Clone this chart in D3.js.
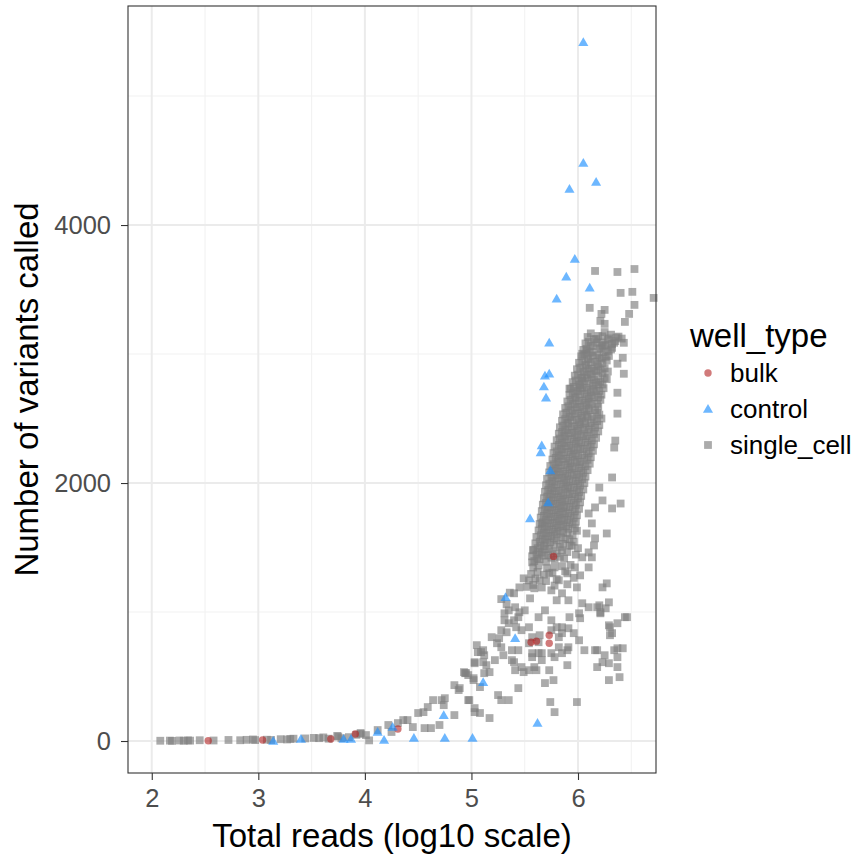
<!DOCTYPE html>
<html><head><meta charset="utf-8">
<script src="https://cdn.jsdelivr.net/npm/d3@7"></script>
<style>
body{margin:0;background:#fff}
svg{display:block}
text{font-family:"Liberation Sans",Arial,Helvetica,sans-serif}
</style>
</head><body>
<svg id="chart" width="856" height="859"></svg>
<script>
// ---------- tick labels / categories ----------
const xTicks = [2, 3, 4, 5, 6];
const xMinor = [2.5, 3.5, 4.5, 5.5, 6.5];
const yTicks = [0, 2000, 4000];
const yMinor = [1000, 3000, 5000];
const categories = ["bulk", "control", "single_cell"];

// ---------- data: [log10 total reads, variants called] ----------
const bulk = [
 [2.53,2],[3.04,8],[3.68,15],[3.91,54],[4.31,93],
 [5.77,1431],[5.56,766],[5.61,774],[5.73,820],[5.73,758]
];

const control = [
 [6.05,5416],[6.05,4480],[5.92,4279],[6.17,4333],[5.97,3737],[5.89,3598],
 [5.80,3428],[6.11,3513],[5.73,3087],[5.69,2832],[5.73,2847],[5.68,2747],
 [5.70,2661],[5.66,2290],[5.65,2236],[5.74,2097],[5.72,1849],[5.55,1725],
 [5.32,1114],[5.41,797],[5.11,456],[5.62,139],[4.74,200],[4.75,23],[5.01,23],
 [3.14,0],[3.40,15],[3.80,15],[3.87,15],[4.12,70],[4.18,8],[4.26,108],[4.46,23]
];

const singleCell = [
 // low tail
 [2.08,2],[2.17,3],[2.19,1],[2.26,4],[2.30,2],[2.34,5],[2.36,3],[2.45,6],[2.58,4],[2.72,8],
 [2.83,6],[2.89,9],[2.95,12],[2.97,7],[3.08,10],[3.12,8],[3.21,14],[3.27,12],[3.30,16],[3.33,18],
 [3.44,20],[3.52,24],[3.57,22],[3.61,28],[3.66,18],[3.75,35],[3.78,22],[3.96,55],[4.01,46],[4.04,5],
 [3.85,30],[3.92,48],
 // rising segment
 [3.74,39],[3.96,62],[4.12,85],[4.22,124],[4.25,70],[4.31,139],[4.36,162],[4.40,162],[4.45,108],
 [4.50,217],[4.55,224],[4.56,100],[4.59,263],[4.64,317],[4.62,100],[4.70,124],[4.72,317],[4.74,278],
 [4.75,332],[4.84,201],[4.84,433],[4.88,395],[4.94,526],[4.97,317],[5.02,472],[5.03,603],[5.03,224],
 [5.05,743],[5.06,689],[5.08,418],
 [4.89,410],[4.93,534],[4.97,511],[5.02,487],[4.98,317],[5.03,255],[5.08,217],[5.17,178],[5.09,689],
 [5.11,611],[5.14,588],[5.12,665],[5.03,611],[5.17,534],[5.24,758],[5.25,356],[5.28,317],[5.35,317],
 [5.30,665],[5.38,704],[5.40,611],[5.44,410],[5.47,573],[5.49,534],[5.54,549],[5.57,650],[5.61,549],
 [5.63,681],[5.66,681],[5.69,449],[5.73,549],[5.74,302],[5.78,224],[5.77,472],[5.78,650],[5.82,727],
 [5.90,588],[5.90,704],[5.99,302],[6.01,781],[6.06,704],[6.18,704],[6.18,573],[6.25,665],[6.29,603],
 [6.29,472],[6.37,573],[6.39,495],[6.37,719],[6.42,719],[6.32,836],[6.37,913],[6.46,960],[6.29,897],
 [6.21,990],[6.26,1029],[6.20,1052],[6.02,952],[5.96,836],[5.91,874],[5.85,836],[5.80,882],[5.75,859],
 [5.64,820],[5.63,766],[5.54,758],[5.45,998],[5.35,1013],[5.40,936],[5.42,882],[5.31,936],[5.33,843],
 [5.26,797],
 // lower-middle scatter
 [5.66,1687],[5.58,1478],[5.57,1385],[5.49,1261],[5.45,1191],[5.40,1145],[5.31,990],[5.35,913],
 [5.28,859],[5.19,805],[5.11,704],[4.95,526],[5.28,1100],[5.36,1150],[5.33,1060],
 [6.40,1841],[6.32,1803],[6.27,1609],[6.16,1571],[6.27,1222],[6.23,1191],[6.29,1075],[6.18,1037],
 [6.21,998],[6.44,960],[6.30,882],[6.30,820],[6.34,704],[6.37,650],[6.16,704],[6.23,611],
 [6.01,990],[6.10,1037],[6.04,1068],[5.92,960],[5.91,1091],[5.99,1191],[5.90,1300],[5.97,1346],
 [6.02,1284],[6.10,1346],[6.13,1424],[6.10,1462],[6.04,1424],[6.15,1516],[6.08,1609],[6.13,1687],
 [6.10,1764],[6.16,1811],[6.23,1865],[6.20,1965],
 [5.78,1346],[5.73,1300],[5.82,1246],[5.75,1168],[5.85,1145],[5.80,1091],[5.64,1246],[5.59,1184],
 [5.55,1106],[5.50,1013],[5.69,1013],[5.63,960],[5.75,936],[5.85,882],[5.47,859],[5.54,882],
 [5.44,960],[5.41,1037],[5.57,805],[5.82,805],[5.91,727],[5.85,681],[5.66,627],[5.57,681],
 [5.44,704],[5.38,627],[5.59,573],[5.75,681],[5.41,549],[5.22,627],[5.12,526],[5.28,727],
 // upper sparse
 [6.16,3644],[6.37,3636],[6.53,3659],[6.40,3474],[6.51,3482],[6.71,3435],[6.53,3381],[6.11,3358],
 [6.25,3342],[6.22,3311],[6.48,3311],[6.21,3257],[6.25,3234],[6.44,3249],[6.43,3087],[6.34,3087],
 [6.04,3002],[6.08,3025],[6.23,3064],[6.32,3048],[6.42,2971],[6.37,2925],[6.43,2847],[6.04,2816],
 [6.02,2739],[5.92,2731],[6.37,2700],[6.37,2538],[6.35,2329],[6.34,2275],[6.32,2043],
 // dense band
 [6.12,3160],[6.19,3140],[6.25,3170],[6.31,3150],[6.38,3135],
 [6.10,3095],[6.15,3115],[6.22,3090],[6.28,3110],[6.35,3100],[6.41,3120],
 [6.08,3040],[6.14,3060],[6.20,3045],[6.26,3065],[6.31,3035],
 [6.06,2995],[6.11,3010],[6.18,2990],[6.24,3015],[6.29,2985],
 [6.04,2945],[6.10,2960],[6.16,2940],[6.22,2965],[6.27,2950],
 [6.02,2895],[6.08,2910],[6.13,2885],[6.19,2905],[6.25,2890],
 [6.00,2840],[6.06,2860],[6.12,2845],[6.17,2865],[6.23,2850],
 [5.98,2795],[6.04,2790],[6.09,2810],[6.15,2800],[6.21,2785],[6.27,2805],
 [5.96,2745],[6.02,2760],[6.08,2740],[6.14,2755],[6.19,2765],[6.24,2735],
 [5.95,2695],[6.00,2710],[6.06,2690],[6.12,2705],[6.17,2715],[6.22,2685],
 [5.93,2645],[5.98,2660],[6.04,2640],[6.10,2655],[6.15,2665],[6.21,2645],
 [5.91,2595],[5.97,2610],[6.02,2590],[6.08,2605],[6.13,2615],[6.19,2590],
 [5.89,2545],[5.95,2560],[6.00,2540],[6.06,2555],[6.11,2565],[6.18,2545],
 [5.88,2495],[5.93,2510],[5.99,2490],[6.04,2505],[6.09,2515],[6.15,2495],[6.22,2500],
 [5.86,2445],[5.91,2460],[5.97,2440],[6.02,2455],[6.07,2465],[6.13,2445],[6.20,2450],
 [5.85,2395],[5.90,2410],[5.95,2390],[6.00,2405],[6.06,2415],[6.12,2395],[6.19,2400],
 [5.83,2345],[5.88,2360],[5.94,2340],[5.99,2355],[6.05,2365],[6.10,2345],[6.17,2350],
 [5.82,2295],[5.87,2310],[5.92,2290],[5.98,2305],[6.03,2315],[6.09,2295],[6.15,2300],
 [5.80,2245],[5.85,2260],[5.91,2240],[5.96,2255],[6.02,2265],[6.08,2245],[6.14,2250],
 [5.79,2195],[5.84,2210],[5.89,2190],[5.95,2205],[6.00,2215],[6.06,2195],[6.12,2200],
 [5.77,2145],[5.82,2160],[5.88,2140],[5.93,2155],[5.99,2165],[6.04,2145],[6.11,2150],
 [5.76,2095],[5.81,2110],[5.86,2090],[5.92,2105],[5.97,2115],[6.03,2095],[6.09,2100],
 [5.75,2045],[5.80,2060],[5.85,2040],[5.90,2055],[5.96,2065],[6.01,2045],[6.07,2050],
 [5.73,1995],[5.78,2010],[5.84,1990],[5.89,2005],[5.95,2015],[6.00,1995],[6.06,2000],
 [5.72,1945],[5.77,1960],[5.82,1940],[5.88,1955],[5.93,1965],[5.99,1945],[6.05,1950],
 [5.71,1895],[5.76,1910],[5.81,1890],[5.86,1905],[5.92,1915],[5.97,1895],[6.03,1900],
 [5.70,1845],[5.75,1860],[5.80,1840],[5.85,1855],[5.90,1865],[5.96,1845],[6.02,1850],
 [5.69,1795],[5.74,1810],[5.79,1790],[5.84,1805],[5.89,1815],[5.95,1795],[6.01,1800],
 [5.68,1745],[5.73,1760],[5.78,1740],[5.83,1755],[5.88,1765],[5.93,1745],[5.99,1750],
 [5.67,1695],[5.72,1710],[5.77,1690],[5.82,1705],[5.87,1715],[5.92,1695],[5.98,1700],
 [5.66,1645],[5.71,1660],[5.76,1640],[5.81,1655],[5.86,1665],[5.91,1645],[5.97,1650],
 [5.65,1595],[5.70,1610],[5.75,1590],[5.80,1605],[5.86,1615],[5.95,1595],
 [5.64,1545],[5.69,1560],[5.74,1540],[5.80,1555],[5.88,1565],[5.96,1545],
 [5.62,1495],[5.68,1510],[5.73,1490],[5.83,1505],[5.92,1515],[6.00,1495],
 [5.61,1445],[5.66,1460],[5.72,1440],[5.80,1455],[5.90,1465],[5.98,1445],
 [5.59,1395],[5.64,1410],[5.70,1390],[5.78,1405],[5.87,1415],
 [5.58,1345],[5.63,1360],[5.71,1340],[5.85,1355],[5.93,1365],
 [5.56,1295],[5.62,1310],[5.68,1290],[5.76,1305],[5.88,1315],
 [5.54,1245],[5.60,1260],[5.70,1240],[5.80,1255],[5.96,1265],
 [5.52,1195],[5.58,1210],[5.66,1190],[5.78,1205],[5.90,1215],
 // dense band, second layer
 [6.09,3132],[6.17,3116],[6.23,3137],[6.29,3121],[6.36,3128],
 [6.07,3082],[6.12,3066],[6.18,3087],[6.25,3071],[6.32,3078],
 [6.05,3032],[6.13,3016],[6.21,3037],[6.28,3021],
 [6.03,2982],[6.09,2966],[6.14,2987],[6.20,2971],[6.26,2978],
 [6.01,2932],[6.07,2916],[6.12,2937],[6.18,2921],[6.23,2928],
 [5.99,2882],[6.05,2866],[6.10,2887],[6.15,2871],[6.21,2878],[6.28,2864],
 [5.97,2832],[6.03,2816],[6.08,2837],[6.13,2821],[6.19,2828],[6.25,2814],
 [5.95,2782],[6.01,2766],[6.06,2787],[6.11,2771],[6.17,2778],[6.23,2764],
 [5.93,2732],[5.99,2716],[6.04,2737],[6.09,2721],[6.15,2728],[6.20,2714],
 [5.92,2682],[5.97,2666],[6.02,2687],[6.08,2671],[6.13,2678],[6.19,2664],
 [5.90,2632],[5.95,2616],[6.01,2637],[6.06,2621],[6.11,2628],[6.18,2614],
 [5.88,2582],[5.93,2566],[5.99,2587],[6.04,2571],[6.10,2578],[6.16,2564],
 [5.86,2532],[5.92,2516],[5.97,2537],[6.03,2521],[6.08,2528],[6.13,2514],[6.20,2530],
 [5.85,2482],[5.90,2466],[5.95,2487],[6.01,2471],[6.06,2478],[6.12,2464],[6.18,2480],
 [5.83,2432],[5.88,2416],[5.94,2437],[5.99,2421],[6.05,2428],[6.10,2414],[6.16,2430],
 [5.82,2382],[5.87,2366],[5.92,2387],[5.97,2371],[6.03,2378],[6.08,2364],[6.15,2380],
 [5.80,2332],[5.85,2316],[5.90,2337],[5.96,2321],[6.01,2328],[6.07,2314],[6.13,2330],
 [5.78,2282],[5.84,2266],[5.89,2287],[5.94,2271],[6.00,2278],[6.05,2264],[6.12,2280],
 [5.77,2232],[5.82,2216],[5.87,2237],[5.93,2221],[5.98,2228],[6.04,2214],[6.10,2230],
 [5.76,2182],[5.81,2166],[5.86,2187],[5.91,2171],[5.97,2178],[6.02,2164],[6.09,2180],
 [5.74,2132],[5.79,2116],[5.84,2137],[5.90,2121],[5.95,2128],[6.01,2114],[6.07,2130],
 [5.73,2082],[5.78,2066],[5.83,2087],[5.88,2071],[5.94,2078],[5.99,2064],[6.05,2080],
 [5.71,2032],[5.76,2016],[5.82,2037],[5.87,2021],[5.92,2028],[5.98,2014],[6.04,2030],
 [5.70,1982],[5.75,1966],[5.80,1987],[5.86,1971],[5.91,1978],[5.96,1964],[6.02,1980],
 [5.69,1932],[5.74,1916],[5.79,1937],[5.84,1921],[5.90,1928],[5.95,1914],[6.01,1930],
 [5.68,1882],[5.73,1866],[5.78,1887],[5.83,1871],[5.88,1878],[5.94,1864],[6.00,1880],
 [5.67,1832],[5.72,1816],[5.77,1837],[5.82,1821],[5.87,1828],[5.92,1814],[5.98,1830],
 [5.66,1782],[5.71,1766],[5.76,1787],[5.81,1771],[5.86,1778],[5.91,1764],[5.97,1780],
 [5.65,1732],[5.70,1716],[5.75,1737],[5.80,1721],[5.85,1728],[5.90,1714],[5.96,1730],
 [5.64,1682],[5.69,1666],[5.74,1687],[5.79,1671],[5.84,1678],[5.89,1664],[5.95,1680],
 [5.63,1632],[5.68,1616],[5.73,1637],[5.78,1621],[5.83,1628],[5.90,1614],[5.99,1630],
 [5.61,1582],[5.67,1566],[5.72,1587],[5.77,1571],[5.84,1578],[5.92,1564],
 [5.60,1532],[5.65,1516],[5.71,1537],[5.78,1521],[5.86,1528],[5.94,1514],
 [5.58,1482],[5.64,1466],[5.69,1487],[5.76,1471],[5.85,1478],
 [5.57,1432],[5.62,1416],[5.68,1437],[5.75,1421],[5.83,1428]
];

// ---------- styles ----------
const colors = {bulk: "#b22222", control: "#1e90ff", single_cell: "#7f7f7f"};
const alphas = {bulk: 0.6, control: 0.65, single_cell: 0.66};

// ---------- layout ----------
const panel = {left: 128, right: 656, top: 6, bottom: 773};
const svg = d3.select("#chart");

const x = d3.scaleLinear().domain([1.777, 6.732]).range([panel.left, panel.right]);
const y = d3.scaleLinear().domain([-248, 5698]).range([panel.bottom, panel.top]);

// grid
const grid = svg.append("g");
grid.selectAll(".xminor").data(xMinor).join("line")
  .attr("x1", d => x(d)).attr("x2", d => x(d))
  .attr("y1", panel.top).attr("y2", panel.bottom)
  .attr("stroke", "#f2f2f2").attr("stroke-width", 1.1);
grid.selectAll(".yminor").data(yMinor).join("line")
  .attr("y1", d => y(d)).attr("y2", d => y(d))
  .attr("x1", panel.left).attr("x2", panel.right)
  .attr("stroke", "#f2f2f2").attr("stroke-width", 1.1);
grid.selectAll(".xmajor").data(xTicks).join("line")
  .attr("x1", d => x(d)).attr("x2", d => x(d))
  .attr("y1", panel.top).attr("y2", panel.bottom)
  .attr("stroke", "#ebebeb").attr("stroke-width", 2);
grid.selectAll(".ymajor").data(yTicks).join("line")
  .attr("y1", d => y(d)).attr("y2", d => y(d))
  .attr("x1", panel.left).attr("x2", panel.right)
  .attr("stroke", "#ebebeb").attr("stroke-width", 2);

// points
const pts = svg.append("g");
const sq = 7.8;
pts.selectAll(".sc").data(singleCell).join("rect")
  .attr("x", d => x(d[0]) - sq/2).attr("y", d => y(d[1]) - sq/2)
  .attr("width", sq).attr("height", sq)
  .attr("fill", colors.single_cell).attr("fill-opacity", alphas.single_cell);
pts.selectAll(".bk").data(bulk).join("circle")
  .attr("cx", d => x(d[0])).attr("cy", d => y(d[1])).attr("r", 3.7)
  .attr("fill", colors.bulk).attr("fill-opacity", alphas.bulk);
const tri = d3.symbol().type(d3.symbolTriangle).size(44);
pts.selectAll(".ct").data(control).join("path")
  .attr("d", tri)
  .attr("transform", d => `translate(${x(d[0])},${y(d[1]) + 0.8})`)
  .attr("fill", colors.control).attr("fill-opacity", alphas.control);

// panel border
svg.append("rect")
  .attr("x", panel.left).attr("y", panel.top)
  .attr("width", panel.right - panel.left).attr("height", panel.bottom - panel.top)
  .attr("fill", "none").attr("stroke", "#333").attr("stroke-width", 1.1);

// axes
const xAxis = svg.append("g").attr("transform", `translate(0,${panel.bottom})`)
  .call(d3.axisBottom(x).tickValues(xTicks).tickSize(7).tickPadding(9).tickFormat(d3.format("d")));
const yAxis = svg.append("g").attr("transform", `translate(${panel.left},0)`)
  .call(d3.axisLeft(y).tickValues(yTicks).tickSize(7).tickPadding(10).tickFormat(d3.format("d")));
[xAxis, yAxis].forEach(a => {
  a.select(".domain").remove();
  a.selectAll(".tick line").attr("stroke", "#333").attr("stroke-width", 1.1);
  a.selectAll(".tick text").attr("fill", "#4d4d4d").attr("font-size", 25.5)
    .attr("font-family", '"Liberation Sans",Arial,sans-serif');
});

// axis titles
svg.append("text")
  .attr("x", (panel.left + panel.right) / 2).attr("y", 847)
  .attr("text-anchor", "middle").attr("font-size", 33).attr("fill", "#000")
  .text("Total reads (log10 scale)");
svg.append("text")
  .attr("transform", `translate(38,${(panel.top + panel.bottom) / 2}) rotate(-90)`)
  .attr("text-anchor", "middle").attr("font-size", 33).attr("fill", "#000")
  .text("Number of variants called");

// legend
const lg = svg.append("g");
lg.append("text").attr("x", 690).attr("y", 347).attr("font-size", 33).attr("fill", "#000").text("well_type");
const keyY = d3.scalePoint().domain(categories).range([373, 445]);
categories.forEach(c => {
  const cy = keyY(c);
  if (c === "bulk") {
    lg.append("circle").attr("cx", 708).attr("cy", cy).attr("r", 3.7)
      .attr("fill", colors.bulk).attr("fill-opacity", alphas.bulk);
  } else if (c === "control") {
    lg.append("path").attr("d", tri).attr("transform", `translate(708,${cy + 0.8})`)
      .attr("fill", colors.control).attr("fill-opacity", alphas.control);
  } else {
    lg.append("rect").attr("x", 708 - sq/2).attr("y", cy - sq/2).attr("width", sq).attr("height", sq)
      .attr("fill", colors.single_cell).attr("fill-opacity", alphas.single_cell);
  }
  lg.append("text").attr("x", 730).attr("y", cy + 9).attr("font-size", 26).attr("fill", "#000").text(c);
});
</script>
</body></html>
